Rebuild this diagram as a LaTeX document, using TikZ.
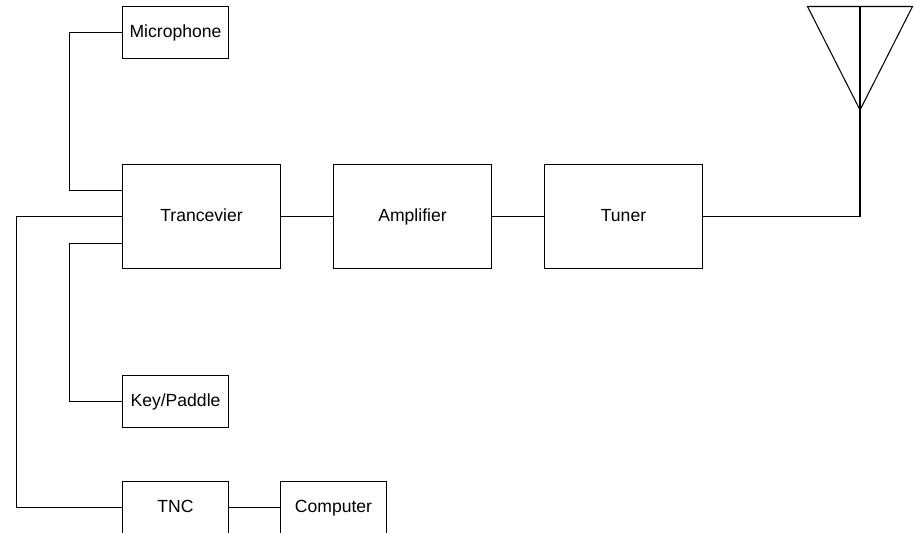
\documentclass[tikz,border=0pt]{standalone}
\usepackage{fontspec}
\setmainfont{Liberation Sans}
\begin{document}
\begin{tikzpicture}[
    unit/.style={rectangle, draw, line width=0.6pt, minimum width=3.16cm, minimum height=2.09cm, text centered, text height=1.6ex, text depth=0.45ex, font=\fontsize{10}{12}\selectfont},
    small/.style={rectangle, draw, line width=0.6pt, minimum width=2.11cm, minimum height=1.05cm, text centered, text height=1.6ex, text depth=0.45ex, font=\fontsize{10}{12}\selectfont},
    wire/.style={line width=0.6pt}
]
\useasboundingbox (0,0) rectangle (18.28,-10.64);

% Main chain
\node[unit] (trx) at (4.03, -4.33) {Trancevier};
\node[unit] (amp) at (8.25, -4.33) {Amplifier};
\node[unit] (tuner) at (12.47, -4.33) {Tuner};

% Accessories
\node[small] (mic) at (3.51, -0.65) {Microphone};
\node[small] (key) at (3.51, -8.03) {Key/Paddle};
\node[small] (tnc) at (3.51, -10.15) {TNC};
\node[small] (pc) at (6.67, -10.15) {Computer};

% Antenna
\coordinate (anttop) at (17.2, -0.13);
\coordinate (antpoint) at (17.2, -2.2);
\draw[wire] (16.15, -0.13) -- (18.25, -0.13) -- (antpoint) -- cycle;

% Wiring
\draw[wire] (trx) -- (amp);
\draw[wire] (amp) -- (tuner);
\draw[wire] (tuner.east) -| (anttop);
\draw[wire] (mic.west) -- ++(-1.05, 0) |- ([yshift=0.52cm]trx.west);
\draw[wire] (trx.west) -- ++(-2.11, 0) |- (tnc.west);
\draw[wire] ([yshift=-0.54cm]trx.west) -- ++(-1.05, 0) |- (key.west);
\draw[wire] (tnc) -- (pc);

\end{tikzpicture}
\end{document}
